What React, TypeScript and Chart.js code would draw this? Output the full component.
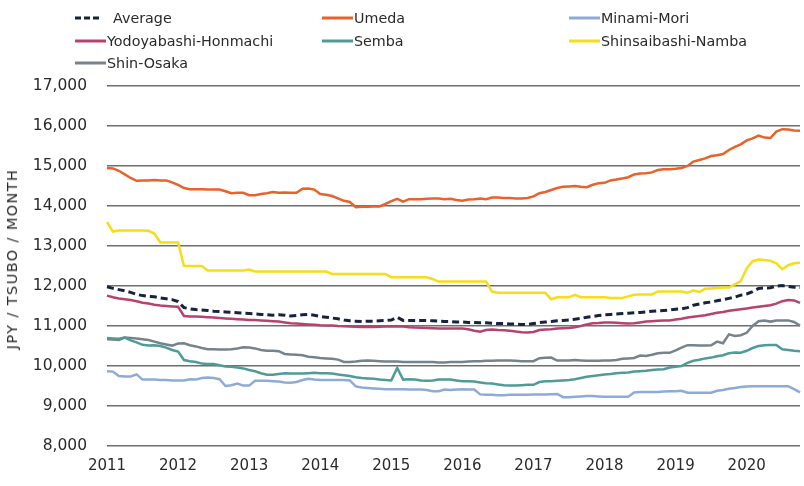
import React, { useEffect, useRef } from "react";
import { Chart, registerables } from "chart.js";

Chart.register(...registerables);

const YEARS = ["2011", "2012", "2013", "2014", "2015", "2016", "2017", "2018", "2019", "2020"];
const Y_TITLE = "JPY / TSUBO / MONTH";

const average = [
  11980, 11940, 11910, 11880, 11840, 11790, 11760, 11740, 11730, 11700, 11680, 11660,
  11610, 11460, 11430, 11410, 11400, 11390, 11370, 11360, 11350, 11340, 11330, 11320,
  11310, 11300, 11290, 11280, 11270, 11280, 11270, 11250, 11260, 11280, 11290, 11270,
  11240, 11220, 11200, 11180, 11150, 11130, 11120, 11110, 11120, 11120, 11130, 11140,
  11150, 11220, 11140, 11140, 11140, 11140, 11140, 11130, 11120, 11110, 11110, 11100,
  11100, 11090, 11090, 11080, 11080, 11070, 11060, 11060, 11050, 11050, 11040, 11035,
  11060, 11085, 11100, 11110, 11130, 11140, 11150, 11170, 11190, 11220, 11240, 11260,
  11280, 11290, 11300, 11310, 11320, 11330, 11340, 11350, 11370, 11380, 11390, 11400,
  11420, 11430, 11460, 11520, 11550, 11580, 11600, 11630, 11660, 11690, 11720, 11770,
  11800, 11860, 11940, 11950, 11955, 12000, 12010, 11990, 11970, 11960,
];

const umeda = [
  14950, 14940, 14880, 14790, 14700, 14630, 14640, 14640, 14650, 14640, 14640, 14590,
  14530, 14450, 14420, 14420, 14420, 14410, 14410, 14410, 14370, 14320, 14330, 14330,
  14270, 14270, 14300, 14320, 14350, 14330, 14340, 14330, 14330, 14430, 14440, 14410,
  14300, 14280, 14250, 14190, 14130, 14100, 13970, 13980, 13980, 13990, 13990, 14050,
  14120, 14180, 14110, 14170, 14170, 14170, 14180, 14190, 14190, 14170, 14180, 14150,
  14130, 14160, 14170, 14190, 14170, 14210, 14210, 14200, 14200, 14190, 14190, 14200,
  14240, 14320, 14350, 14400, 14450, 14480, 14490, 14500, 14480, 14470, 14530, 14570,
  14580, 14640, 14660, 14690, 14720, 14790, 14810, 14820, 14840, 14900, 14920, 14920,
  14930, 14950, 15000, 15110, 15150, 15190, 15250, 15270, 15300, 15400, 15480, 15540,
  15640, 15690, 15760, 15710, 15700, 15860, 15920, 15910, 15890, 15880,
];

const minamiMori = [
  9870, 9860, 9750, 9740, 9740, 9790, 9660, 9660, 9660, 9650, 9650, 9640,
  9640, 9640, 9670, 9660, 9700, 9710, 9700, 9670, 9500, 9520, 9560, 9510,
  9510, 9630, 9630, 9630, 9620, 9610, 9590, 9580, 9600, 9650, 9680, 9660,
  9650, 9650, 9650, 9650, 9650, 9640, 9490, 9460, 9450, 9440, 9430, 9420,
  9420, 9420, 9420, 9410, 9410, 9410, 9400, 9370, 9370, 9410, 9400, 9410,
  9420, 9410, 9410, 9290, 9280, 9280, 9270, 9270, 9280, 9280, 9280, 9280,
  9285, 9285, 9290, 9295, 9300, 9220, 9220, 9230, 9240, 9250, 9250, 9240,
  9230, 9230, 9230, 9230, 9230, 9340, 9350, 9350, 9350, 9350, 9360, 9370,
  9370, 9380, 9330, 9330, 9330, 9330, 9330, 9380, 9400, 9430, 9450, 9475,
  9485, 9495, 9495, 9495, 9495, 9495, 9495, 9495, 9420, 9340,
];

const yodoyabashiHonmachi = [
  11760, 11720, 11690, 11670, 11650, 11620, 11580, 11560, 11530, 11510, 11500, 11490,
  11480, 11250, 11240, 11240, 11230, 11220, 11210, 11200, 11190, 11180, 11170, 11160,
  11150, 11150, 11140, 11130, 11120, 11110, 11090, 11070, 11060, 11050, 11040, 11030,
  11020, 11015, 11010, 11000, 10995, 10990, 10980, 10975, 10975, 10975, 10980, 10985,
  10990, 10995, 10985, 10970, 10960, 10955, 10950, 10945, 10940, 10935, 10935, 10935,
  10935, 10920, 10880, 10855, 10900, 10910, 10900, 10895, 10880, 10860, 10845, 10836,
  10850, 10900, 10910, 10920, 10935, 10945, 10950, 10970, 11000, 11040, 11070, 11075,
  11090, 11090, 11080, 11070, 11060, 11070, 11090, 11110, 11120, 11130, 11135, 11140,
  11160, 11180, 11210, 11230, 11250, 11270, 11300, 11330, 11350, 11380, 11400, 11420,
  11440, 11460, 11480, 11500, 11520, 11560, 11620, 11650, 11640, 11580,
];

const semba = [
  10700, 10690, 10680, 10710, 10640, 10590, 10530, 10510, 10520, 10500, 10460, 10400,
  10360, 10150, 10120, 10100, 10060, 10050, 10050, 10020, 9990, 9980, 9960, 9940,
  9900, 9870, 9820, 9780, 9780, 9800, 9820, 9810, 9810, 9810, 9820, 9830,
  9820, 9820, 9810, 9790, 9770, 9750, 9720, 9700, 9690, 9680, 9660, 9650,
  9640, 9950, 9660, 9670, 9660, 9640, 9630, 9640, 9660, 9660, 9660, 9640,
  9620, 9620, 9610, 9590, 9570, 9560, 9540, 9520, 9510, 9510, 9520, 9530,
  9530, 9600, 9620, 9620, 9630, 9640, 9650, 9670, 9700, 9730, 9750, 9770,
  9790, 9800, 9820, 9830, 9840, 9860, 9870, 9880, 9900, 9910, 9920, 9960,
  9980, 10000, 10080, 10130, 10155, 10190, 10210, 10245, 10270, 10320, 10340, 10330,
  10380, 10450, 10500, 10520, 10525, 10525, 10420, 10400, 10380, 10370,
];

const shinsaibashiNamba = [
  13600, 13360, 13390, 13390, 13390, 13390, 13390, 13380, 13310, 13090, 13090, 13090,
  13090, 12500, 12500, 12500, 12500, 12390, 12390, 12390, 12390, 12390, 12390, 12390,
  12410, 12360, 12360, 12360, 12360, 12360, 12360, 12360, 12360, 12360, 12360, 12360,
  12360, 12360, 12300, 12300, 12300, 12300, 12300, 12300, 12300, 12300, 12300, 12300,
  12220, 12220, 12220, 12220, 12220, 12220, 12220, 12170, 12110, 12110, 12110, 12110,
  12110, 12110, 12110, 12110, 12110, 11860, 11830, 11830, 11830, 11830, 11830, 11830,
  11830, 11830, 11830, 11670, 11720, 11720, 11720, 11780, 11720, 11720, 11720, 11720,
  11720, 11700, 11700, 11700, 11740, 11780, 11790, 11790, 11790, 11860, 11860, 11860,
  11860, 11860, 11830, 11890, 11850, 11930, 11940, 11950, 11960, 11960, 12040, 12120,
  12440, 12620, 12660, 12650, 12630, 12570, 12420, 12520, 12570, 12580,
];

const shinOsaka = [
  10670, 10660, 10650, 10710, 10700, 10690, 10670, 10650, 10610, 10570, 10540, 10510,
  10560, 10570, 10520, 10490, 10450, 10420, 10420, 10410, 10410, 10420, 10440, 10470,
  10460, 10440, 10400, 10380, 10380, 10370, 10300, 10290, 10280, 10270, 10230, 10220,
  10200, 10190, 10180, 10160, 10100, 10100, 10110, 10130, 10140, 10130, 10120, 10110,
  10110, 10110, 10100, 10100, 10100, 10100, 10100, 10100, 10090, 10090, 10100, 10100,
  10100, 10110, 10120, 10120, 10130, 10130, 10140, 10140, 10140, 10130, 10120, 10120,
  10120, 10195, 10205, 10210, 10135, 10140, 10140, 10150, 10140, 10130, 10130, 10130,
  10140, 10140, 10150, 10180, 10190, 10200, 10260, 10250, 10280, 10320, 10330, 10330,
  10390, 10460, 10520, 10520, 10510, 10510, 10520, 10610, 10570, 10790, 10750, 10770,
  10830, 11000, 11120, 11140, 11110, 11140, 11140, 11140, 11100, 11010,
];

const SERIES = [
  { name: "Average", data: average, color: "#15233f", dashed: true, col: 0, row: 0 },
  { name: "Umeda", data: umeda, color: "#e8622a", dashed: false, col: 1, row: 0 },
  { name: "Minami-Mori", data: minamiMori, color: "#8eaad8", dashed: false, col: 2, row: 0 },
  { name: "Yodoyabashi-Honmachi", data: yodoyabashiHonmachi, color: "#b8416e", dashed: false, col: 0, row: 1 },
  { name: "Semba", data: semba, color: "#4f9b98", dashed: false, col: 1, row: 1 },
  { name: "Shinsaibashi-Namba", data: shinsaibashiNamba, color: "#f7dc1a", dashed: false, col: 2, row: 1 },
  { name: "Shin-Osaka", data: shinOsaka, color: "#76838c", dashed: false, col: 0, row: 2 },
];

const LEGEND_COL_X = [75, 322, 569];
const LEGEND_ROW_Y = [18, 41, 63];
const FONT = "'DejaVu Sans', sans-serif";

export default function App() {
  const canvasRef = useRef<HTMLCanvasElement | null>(null);

  useEffect(() => {
    const canvas = canvasRef.current;
    if (!canvas) return;
    const labels = average.map((_, i) => `${YEARS[Math.floor(i / 12)]}-${(i % 12) + 1}`);
    const chart = new Chart(canvas, {
      type: "line",
      data: {
        labels,
        datasets: SERIES.map((s) => ({
          label: s.name,
          data: s.data,
          borderColor: s.color,
          backgroundColor: s.color,
          borderWidth: s.dashed ? 3 : 2.5,
          borderDash: s.dashed ? [7, 4] : [],
          pointRadius: 0,
          pointHoverRadius: 0,
          tension: 0,
          fill: false,
        })),
      },
      options: {
        responsive: false,
        animation: false,
        devicePixelRatio: 1,
        layout: { padding: { top: 86, right: 4, bottom: 0, left: 0 } },
        plugins: {
          legend: { display: false },
          tooltip: { enabled: false },
          title: { display: false },
        },
        scales: {
          x: {
            type: "category",
            offset: false,
            grid: { display: false, drawTicks: false },
            border: { display: false },
            ticks: {
              autoSkip: false,
              maxRotation: 0,
              minRotation: 0,
              padding: 11,
              color: "#2a2a2a",
              font: { family: FONT, size: 15 },
              callback: (_v: any, idx: number) => (idx % 12 === 0 ? YEARS[idx / 12] : null),
            },
          },
          y: {
            min: 8000,
            max: 17000,
            afterFit: (scale: any) => {
              scale.width = 107;
            },
            grid: { color: "#6e6e6e", lineWidth: 1.5, drawTicks: false },
            border: { display: false },
            ticks: {
              stepSize: 1000,
              padding: 20,
              color: "#2a2a2a",
              font: { family: FONT, size: 15.5 },
              callback: (v: any) => Number(v).toLocaleString("en-US"),
            },
          },
        },
      },
    });
    return () => chart.destroy();
  }, []);

  return (
    <div style={{ position: "absolute", left: 0, top: 0, width: 804, height: 486, background: "#fff", fontFamily: FONT }}>
      <canvas ref={canvasRef} width={804} height={486} style={{ position: "absolute", left: 0, top: 0, display: "block" }} />
      {SERIES.map((s) => (
        <div
          key={s.name}
          style={{
            position: "absolute",
            left: LEGEND_COL_X[s.col],
            top: LEGEND_ROW_Y[s.row] - 10,
            height: 20,
            display: "flex",
            alignItems: "center",
            whiteSpace: "nowrap",
            fontSize: 14.3,
            color: "#2a2a2a",
          }}
        >
          <svg width={s.dashed ? 24 : 31} height={4} style={{ display: "block" }}>
            <line
              x1={0}
              y1={2}
              x2={s.dashed ? 24 : 31}
              y2={2}
              stroke={s.color}
              strokeWidth={3}
              strokeDasharray={s.dashed ? "6 3" : undefined}
            />
          </svg>
          <span style={{ marginLeft: s.dashed ? 14 : 1 }}>{s.name}</span>
        </div>
      ))}
      <div
        style={{
          position: "absolute",
          left: 12,
          top: 259,
          transform: "translate(-50%, -50%) rotate(-90deg)",
          whiteSpace: "nowrap",
          fontSize: 14.5,
          letterSpacing: "1.4px",
          color: "#2a2a2a",
        }}
      >
        {Y_TITLE}
      </div>
    </div>
  );
}
